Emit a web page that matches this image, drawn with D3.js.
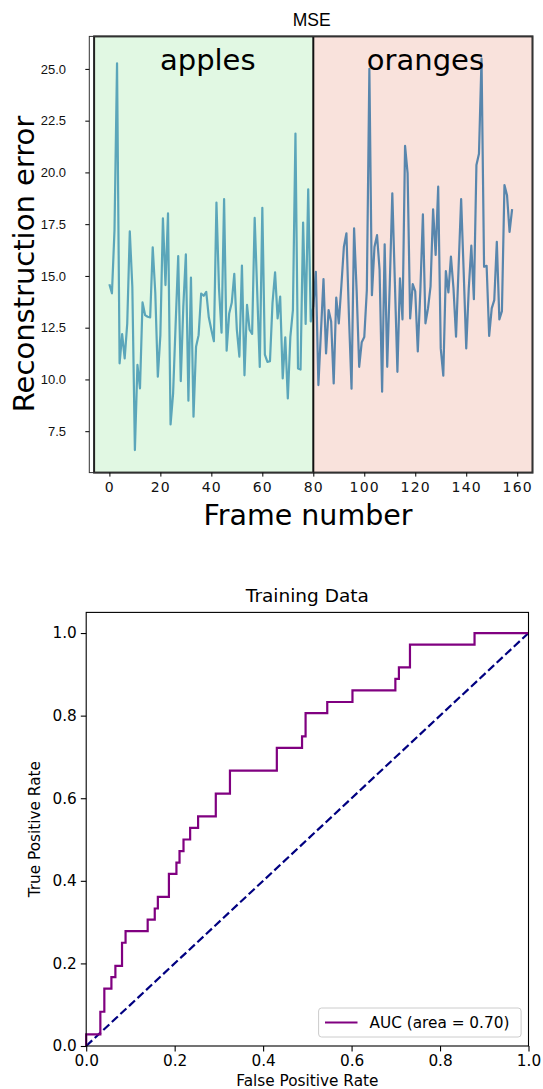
<!DOCTYPE html>
<html><head><meta charset="utf-8">
<script src="https://cdn.jsdelivr.net/npm/d3@7"></script>
<style>body{margin:0;background:#fff}svg{display:block}</style>
</head><body>
<svg id="c" width="543" height="1089"></svg>
<script>
// ---------- Data: top chart (MSE per frame) ----------
const applesFrames = d3.range(0, 81);
const applesMSE = [14.6,14.16,17.2,25.27,10.78,12.19,11.02,12.7,17.15,14.48,
  6.59,10.7,9.57,13.72,13.11,13.03,13.0,16.38,14.2,10.13,
  12.14,17.78,14.56,18.02,7.83,9.33,12.71,15.96,9.92,13.51,
  16.04,8.97,14.92,8.2,11.58,12.14,14.15,14.04,14.23,13.0,
  12.4,11.85,18.54,14.4,12.26,18.71,11.39,13.19,13.7,15.1,
  12.4,11.1,15.5,10.2,13.6,12.4,12.2,17.8,14.2,10.6,
  18.29,11.2,10.85,10.88,13.7,15.17,12.95,14.0,10.05,12.03,
  9.08,12.06,13.35,21.88,10.53,10.48,17.58,12.68,19.18,12.8,13.5];
const orangesFrames = d3.range(80, 159);
const orangesMSE = [13.5,15.2,9.73,12.3,14.85,11.26,13.35,12.8,9.81,13.95,
  12.71,14.5,16.41,17.06,13.0,9.55,17.3,14.3,10.61,11.8,
  12.05,14.3,25.0,14.07,16.4,16.97,15.3,9.41,16.53,10.61,
  14.6,18.99,14.7,10.37,14.88,12.9,21.28,19.95,12.95,14.6,
  14.25,11.35,14.3,17.97,12.71,13.43,14.5,18.22,16.01,19.31,
  11.5,10.18,15.23,14.2,15.93,14.4,12.07,15.4,18.71,15.2,
  11.5,14.4,16.46,13.88,20.36,20.9,25.5,15.44,15.49,12.1,
  13.43,13.83,16.65,12.9,13.3,19.39,18.9,17.13,18.23];
const regionLabels = ["apples", "oranges"];
const regionBounds = [[-6, 80], [80, 166]];
const regionLabelAt = [38.6, 124];
const topXTicks = [0, 20, 40, 60, 80, 100, 120, 140, 160];
const topYTicks = [7.5, 10.0, 12.5, 15.0, 17.5, 20.0, 22.5, 25.0];

// ---------- Data: ROC curve ----------
const rocFPR = [0,0,0.032,0.032,0.041,0.041,0.057,0.057,0.066,0.066,0.081,0.081,0.089,0.089,
  0.139,0.139,0.155,0.155,0.162,0.162,0.187,0.187,0.204,0.204,0.211,0.211,0.22,0.22,
  0.235,0.235,0.253,0.253,0.293,0.293,0.325,0.325,0.431,0.431,0.488,0.488,0.496,0.496,
  0.545,0.545,0.602,0.602,0.699,0.699,0.707,0.707,0.732,0.732,0.878,0.878,1.0];
const rocTPR = [0,0.028,0.028,0.083,0.083,0.139,0.139,0.167,0.167,0.194,0.194,0.25,0.25,0.278,
  0.278,0.306,0.306,0.333,0.333,0.361,0.361,0.417,0.417,0.444,0.444,0.472,0.472,0.5,
  0.5,0.528,0.528,0.556,0.556,0.611,0.611,0.667,0.667,0.722,0.722,0.75,0.75,0.806,
  0.806,0.833,0.833,0.861,0.861,0.889,0.889,0.917,0.917,0.972,0.972,1.0,1.0];
const chanceLine = [0, 1];
const rocTicks = [0.0, 0.2, 0.4, 0.6, 0.8, 1.0];
const legendLabel = "AUC (area = 0.70)";

const svg = d3.select("#c");
const FONT = "DejaVu Sans, sans-serif";
const SANS = "Liberation Sans, Arial, sans-serif";

// ================= TOP CHART =================
{
  const L = 94.1, R = 532.5, T = 36.4, B = 472.6, OUT = 89.3;
  const x = d3.scaleLinear().domain([-6, 166]).range([L, R]);
  const y = d3.scaleLinear().domain([5.5, 26.57]).range([B, T]);
  const g = svg.append("g");
  const fills = ["#e1f8e3", "#f9e2dc"];
  regionBounds.forEach((b, k) => {
    g.append("rect").attr("x", x(b[0])).attr("y", T).attr("width", x(b[1]) - x(b[0]))
      .attr("height", B - T).attr("fill", fills[k]);
  });
  const line = d3.line().x(d => x(d[0])).y(d => y(d[1]));
  g.append("path").datum(applesFrames.map((f, k) => [f, applesMSE[k]]))
    .attr("d", line).attr("fill", "none").attr("stroke", "#5ba6ba").attr("stroke-width", 2.2)
    .attr("stroke-linejoin", "round");
  g.append("path").datum(orangesFrames.map((f, k) => [f, orangesMSE[k]]))
    .attr("d", line).attr("fill", "none").attr("stroke", "#5886ad").attr("stroke-width", 2.2)
    .attr("stroke-linejoin", "round");
  g.append("line").attr("x1", x(80)).attr("x2", x(80)).attr("y1", T).attr("y2", B)
    .attr("stroke", "#111").attr("stroke-width", 2);
  g.append("rect").attr("x", L).attr("y", T).attr("width", R - L).attr("height", B - T)
    .attr("fill", "none").attr("stroke", "#222").attr("stroke-width", 2);
  g.append("rect").attr("x", OUT).attr("y", T).attr("width", R - OUT).attr("height", B - T)
    .attr("fill", "none").attr("stroke", "#333").attr("stroke-width", 1);
  regionLabels.forEach((t, k) => {
    g.append("text").attr("x", x(regionLabelAt[k])).attr("y", 69.5)
      .attr("text-anchor", "middle").attr("font-family", FONT).attr("font-size", 29)
      .attr("fill", "#000").text(t);
  });
  const ya = d3.axisLeft(y).tickValues(topYTicks).tickFormat(d3.format(".1f")).tickSize(4).tickPadding(19.3);
  const yg = g.append("g").attr("transform", `translate(${OUT},0)`).call(ya);
  yg.select(".domain").remove();
  yg.selectAll("text").attr("font-family", SANS).attr("font-size", 13).attr("fill", "#111");
  const xa = d3.axisBottom(x).tickValues(topXTicks).tickSize(4).tickPadding(5);
  const xg = g.append("g").attr("transform", `translate(0,${B})`).call(xa);
  xg.select(".domain").remove();
  xg.selectAll("text").attr("font-family", FONT).attr("font-size", 14).attr("fill", "#111")
    .attr("letter-spacing", 1.2);
  g.append("text").attr("x", 311.6).attr("y", 26).attr("text-anchor", "middle")
    .attr("font-family", SANS).attr("font-size", 17.5).text("MSE");
  g.append("text").attr("x", 308).attr("y", 525).attr("text-anchor", "middle")
    .attr("font-family", FONT).attr("font-size", 28.5).text("Frame number");
  g.append("text").attr("transform", "translate(34,264) rotate(-90)").attr("text-anchor", "middle")
    .attr("font-family", FONT).attr("font-size", 29).text("Reconstruction error");
}

// ================= ROC CHART =================
{
  const L = 86.2, R = 528.5, T = 612.4, B = 1046;
  const x = d3.scaleLinear().domain([0, 1]).range([L, R]);
  const y = d3.scaleLinear().domain([0, 1.05]).range([B, T]);
  const g = svg.append("g");
  const line = d3.line().x(d => x(d[0])).y(d => y(d[1]));
  g.append("path").datum(chanceLine.map(v => [v, v])).attr("d", line)
    .attr("fill", "none").attr("stroke", "#000080").attr("stroke-width", 2.2)
    .attr("stroke-dasharray", "8.2,3.5");
  g.append("path").datum(rocFPR.map((f, k) => [f, rocTPR[k]])).attr("d", line)
    .attr("fill", "none").attr("stroke", "#800080").attr("stroke-width", 2.2);
  g.append("rect").attr("x", L).attr("y", T).attr("width", R - L).attr("height", B - T)
    .attr("fill", "none").attr("stroke", "#000").attr("stroke-width", 1.1);
  const xa = d3.axisBottom(x).tickValues(rocTicks).tickFormat(d3.format(".1f")).tickSize(5.4).tickPadding(4);
  const ya = d3.axisLeft(y).tickValues(rocTicks).tickFormat(d3.format(".1f")).tickSize(5.4).tickPadding(4);
  const xg = g.append("g").attr("transform", `translate(0,${B})`).call(xa);
  const yg = g.append("g").attr("transform", `translate(${L},0)`).call(ya);
  [xg, yg].forEach(a => {
    a.select(".domain").remove();
    a.selectAll("line").attr("stroke", "#000").attr("stroke-width", 1.1);
    a.selectAll("text").attr("font-family", FONT).attr("font-size", 15.3).attr("fill", "#000");
  });
  g.append("text").attr("x", (L + R) / 2).attr("y", 602).attr("text-anchor", "middle")
    .attr("font-family", FONT).attr("font-size", 18.5).text("Training Data");
  g.append("text").attr("x", (L + R) / 2).attr("y", 1086).attr("text-anchor", "middle")
    .attr("font-family", FONT).attr("font-size", 15.3).text("False Positive Rate");
  g.append("text").attr("transform", `translate(40,${(T + B) / 2}) rotate(-90)`).attr("text-anchor", "middle")
    .attr("font-family", FONT).attr("font-size", 15.3).text("True Positive Rate");
  const lg = g.append("g");
  lg.append("rect").attr("x", 318.6).attr("y", 1008).attr("width", 202.5).attr("height", 29)
    .attr("rx", 3).attr("fill", "#fff").attr("fill-opacity", 0.8).attr("stroke", "#ccc").attr("stroke-width", 1);
  lg.append("line").attr("x1", 325).attr("x2", 357.5).attr("y1", 1022.5).attr("y2", 1022.5)
    .attr("stroke", "#800080").attr("stroke-width", 2.2);
  lg.append("text").attr("x", 369.5).attr("y", 1028).attr("font-family", FONT).attr("font-size", 15.3)
    .text(legendLabel);
}
</script>
</body></html>
